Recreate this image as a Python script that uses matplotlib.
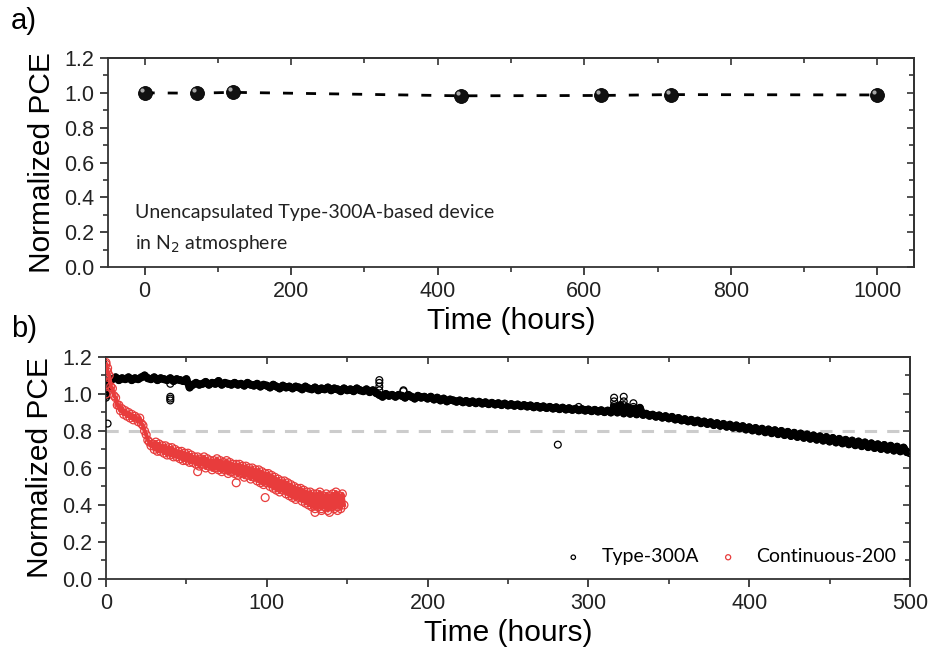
import matplotlib.pyplot as plt
import matplotlib.transforms as mtransforms
import numpy as np
from matplotlib.ticker import MultipleLocator

# panel a: unencapsulated device stored in N2
n2_hours = [0, 72, 120, 432, 623, 719, 1000]
n2_pce = [1.000, 0.998, 1.003, 0.983, 0.985, 0.990, 0.988]

# panel b: Type-300A, readings every 2 hours from 0 to 500 h
type300_hours = np.arange(0, 501, 2)
type300_pce = [
    1.00, 1.07, 1.08, 1.09, 1.075, 1.085, 1.08, 1.09, 1.075, 1.085,
    1.08, 1.09, 1.10, 1.085, 1.08, 1.09, 1.075, 1.085, 1.08, 1.075,
    1.085, 1.07, 1.08, 1.075, 1.07, 1.08, 1.035, 1.05, 1.06, 1.05,
    1.055, 1.065, 1.05, 1.06, 1.055, 1.07, 1.05, 1.06, 1.055, 1.05,
    1.06, 1.05, 1.055, 1.045, 1.06, 1.05, 1.045, 1.055, 1.04, 1.05,
    1.045, 1.035, 1.05, 1.04, 1.03, 1.045, 1.035, 1.04, 1.03, 1.04,
    1.035, 1.025, 1.04, 1.03, 1.025, 1.035, 1.02, 1.03, 1.025, 1.035,
    1.02, 1.03, 1.025, 1.015, 1.03, 1.02, 1.025, 1.015, 1.03, 1.02,
    1.015, 1.025, 1.01, 1.02, 1.005, 0.995, 0.985, 1.0, 0.99, 0.995,
    0.985, 0.995, 0.99, 0.98, 0.995, 0.985, 0.975, 0.99, 0.98, 0.985,
    0.975, 0.985, 0.97, 0.98, 0.965, 0.975, 0.96, 0.97, 0.965, 0.958,
    0.965, 0.955, 0.962, 0.952, 0.96, 0.95, 0.958, 0.948, 0.955, 0.945,
    0.952, 0.943, 0.95, 0.94, 0.948, 0.938, 0.945, 0.936, 0.943, 0.934,
    0.94, 0.932, 0.938, 0.928, 0.935, 0.926, 0.933, 0.924, 0.93, 0.921,
    0.928, 0.918, 0.926, 0.916, 0.923, 0.914, 0.92, 0.912, 0.918, 0.91,
    0.916, 0.907, 0.914, 0.905, 0.912, 0.902, 0.91, 0.9, 0.93, 0.9,
    0.94, 0.895, 0.93, 0.893, 0.92, 0.89, 0.925, 0.887, 0.893, 0.882,
    0.888, 0.877, 0.884, 0.872, 0.88, 0.868, 0.876, 0.862, 0.87, 0.857,
    0.864, 0.852, 0.86, 0.847, 0.856, 0.842, 0.851, 0.838, 0.847, 0.832,
    0.842, 0.828, 0.838, 0.823, 0.834, 0.818, 0.83, 0.814, 0.826, 0.808,
    0.82, 0.803, 0.816, 0.798, 0.812, 0.793, 0.808, 0.788, 0.804, 0.783,
    0.8, 0.778, 0.795, 0.773, 0.79, 0.768, 0.786, 0.763, 0.781, 0.758,
    0.776, 0.753, 0.771, 0.748, 0.767, 0.743, 0.762, 0.738, 0.757, 0.733,
    0.752, 0.728, 0.748, 0.723, 0.743, 0.718, 0.738, 0.713, 0.733, 0.708,
    0.728, 0.703, 0.724, 0.699, 0.72, 0.694, 0.715, 0.69, 0.71, 0.686,
    0.68,
]
# scattered Type-300A readings off the main trend
type300_extra_hours = [0, 0, 1, 40, 40, 40, 40, 170, 170, 170, 170, 185, 185,
                       281, 294, 316, 316, 316, 316, 322, 322, 322, 322, 328, 328]
type300_extra_pce = [0.98, 0.99, 0.84, 0.965, 0.975, 0.985, 1.055, 1.02, 1.04, 1.06, 1.075,
                     1.02, 1.015, 0.726, 0.93, 0.92, 0.94, 0.96, 0.98, 0.92, 0.94, 0.96,
                     0.985, 0.93, 0.95]

# Continuous-200, hourly readings from 0 to 148 h
cont200_hours = np.arange(0, 149, 1)
cont200_pce = [
    1.16, 1.12, 1.10, 1.04, 1.03, 0.99, 0.98, 0.94, 0.94, 0.91,
    0.92, 0.89, 0.91, 0.88, 0.90, 0.87, 0.89, 0.86, 0.88, 0.87,
    0.85, 0.87, 0.84, 0.83, 0.80, 0.78, 0.75, 0.74, 0.72, 0.73,
    0.70, 0.74, 0.69, 0.73, 0.69, 0.72, 0.68, 0.72, 0.67, 0.71,
    0.67, 0.71, 0.66, 0.70, 0.66, 0.69, 0.65, 0.69, 0.64, 0.68,
    0.64, 0.68, 0.63, 0.67, 0.63, 0.66, 0.62, 0.66, 0.61, 0.65,
    0.62, 0.66, 0.60, 0.65, 0.61, 0.64, 0.59, 0.64, 0.60, 0.65,
    0.59, 0.64, 0.58, 0.63, 0.59, 0.64, 0.57, 0.63, 0.58, 0.62,
    0.57, 0.62, 0.56, 0.62, 0.57, 0.61, 0.55, 0.61, 0.56, 0.60,
    0.54, 0.60, 0.55, 0.59, 0.53, 0.59, 0.52, 0.58, 0.51, 0.57,
    0.52, 0.57, 0.50, 0.56, 0.49, 0.55, 0.48, 0.54, 0.47, 0.53,
    0.48, 0.53, 0.46, 0.52, 0.45, 0.51, 0.44, 0.50, 0.43, 0.49,
    0.44, 0.49, 0.42, 0.48, 0.41, 0.47, 0.40, 0.47, 0.39, 0.46,
    0.38, 0.46, 0.39, 0.47, 0.38, 0.45, 0.39, 0.46, 0.37, 0.45,
    0.39, 0.46, 0.38, 0.47, 0.39, 0.45, 0.38, 0.46, 0.40,
]
cont200_extra_hours = [0, 0, 0, 0, 1, 57, 81, 99, 130, 134, 139, 144]
cont200_extra_pce = [1.00, 1.05, 1.10, 1.17, 1.14, 0.58, 0.52, 0.44, 0.36, 0.37, 0.36, 0.37]

RED = '#e83c3c'
TICK_FONT = 'Liberation Sans'
NOTE_FONT = 'Lato'

plt.rcParams['font.family'] = TICK_FONT


def style_axes(ax, xmajor, xminor, ymajor=0.2, yminor=0.1):
    # outward ticks on left/bottom, inward mirrored ticks on top/right
    for side in ax.spines.values():
        side.set_linewidth(1.3)
        side.set_color('#333333')
    ax.xaxis.set_major_locator(MultipleLocator(xmajor))
    ax.xaxis.set_minor_locator(MultipleLocator(xminor))
    ax.yaxis.set_major_locator(MultipleLocator(ymajor))
    ax.yaxis.set_minor_locator(MultipleLocator(yminor))
    ax.tick_params(which='major', direction='out', length=6, width=1.2,
                   labelsize=15.5, colors='#222222', pad=4)
    ax.tick_params(which='minor', direction='out', length=3.5, width=1.1, colors='#222222')
    top = ax.secondary_xaxis('top')
    top.xaxis.set_major_locator(MultipleLocator(xmajor))
    top.xaxis.set_minor_locator(MultipleLocator(xminor))
    top.tick_params(which='both', direction='in', labeltop=False, width=1.1, colors='#222222')
    top.tick_params(which='major', length=5)
    top.tick_params(which='minor', length=3.5)
    right = ax.secondary_yaxis('right')
    right.yaxis.set_major_locator(MultipleLocator(ymajor))
    right.yaxis.set_minor_locator(MultipleLocator(yminor))
    right.tick_params(which='both', direction='in', labelright=False, width=1.1, colors='#222222')
    right.tick_params(which='major', length=5)
    right.tick_params(which='minor', length=3.5)
    for sec in (top, right):
        for side in sec.spines.values():
            side.set_linewidth(1.3)
            side.set_color('#333333')
    ax.yaxis.set_major_formatter(plt.FuncFormatter(lambda v, p: f'{v:.1f}'))


fig = plt.figure(figsize=(9.33, 6.52), dpi=100)

# ---- panel a ----
ax1 = fig.add_axes([0.1158, 0.5905, 0.8638, 0.3205])
ax1.plot(n2_hours, n2_pce, color='black', lw=2.0, dashes=(3.6, 4.7), zorder=2)
ax1.plot(n2_hours, n2_pce, ls='none', marker='o', ms=10, mfc='#111111', mec='black',
         mew=0.6, zorder=3)
# small glint on each sphere
glint = ax1.transData + mtransforms.ScaledTranslation(-2.2 / 72, 2.2 / 72, fig.dpi_scale_trans)
ax1.plot(n2_hours, n2_pce, ls='none', marker='o', ms=3.0, mfc='#a8a8a8', mec='none',
         transform=glint, zorder=4)
ax1.set_xlim(-50, 1050)
ax1.set_ylim(0, 1.2)
style_axes(ax1, 200, 100)
ax1.set_xlabel('Time (hours)', fontsize=21.5, labelpad=4)
ax1.set_ylabel('Normalized PCE', fontsize=21.5, labelpad=6)
ax1.text(0.034, 0.235, 'Unencapsulated Type-300A-based device', transform=ax1.transAxes,
         fontsize=14, family=NOTE_FONT, color='#222222')
ax1.text(0.034, 0.085, 'in N$_2$ atmosphere', transform=ax1.transAxes,
         fontsize=14, family=NOTE_FONT, color='#222222')

# ---- panel b ----
ax2 = fig.add_axes([0.1136, 0.112, 0.8617, 0.3405])
ax2.axhline(0.8, color='#cccccc', lw=2.2, dashes=(4.0, 3.3), zorder=1)

t300 = np.concatenate([type300_hours, type300_extra_hours])
p300 = np.concatenate([type300_pce, type300_extra_pce])
t200 = np.concatenate([cont200_hours, cont200_extra_hours])
p200 = np.concatenate([cont200_pce, cont200_extra_pce])

# dense readings merge into a band: trace them underneath the open markers
ax2.plot(type300_hours, type300_pce, color='black', lw=5.5, zorder=2)
ax2.scatter(t300, p300, s=24, facecolors='none', edgecolors='black', linewidths=0.9,
            label='Type-300A', zorder=3)
ax2.plot(cont200_hours, cont200_pce, color=RED, lw=3.0, zorder=4)
ax2.scatter(t200, p200, s=32, facecolors='none', edgecolors=RED, linewidths=0.9,
            label='Continuous-200', zorder=5)
ax2.set_xlim(0, 500)
ax2.set_ylim(0, 1.2)
style_axes(ax2, 100, 50)
ax2.set_xlabel('Time (hours)', fontsize=21.5, labelpad=4)
ax2.set_ylabel('Normalized PCE', fontsize=21.5, labelpad=6)
ax2.legend(loc='lower right', ncol=2, frameon=False, markerscale=0.65,
           prop={'family': NOTE_FONT, 'size': 14}, handlelength=1.0,
           handletextpad=0.95, columnspacing=1.0, borderaxespad=0.3)

fig.text(0.012, 0.955, 'a)', fontsize=21)
fig.text(0.012, 0.483, 'b)', fontsize=21)

fig.savefig('out.png', dpi=100)
